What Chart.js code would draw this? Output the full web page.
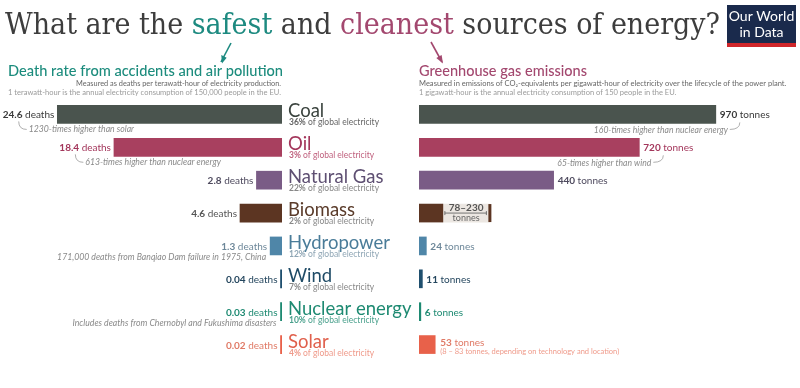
<!DOCTYPE html>
<html><head><meta charset="utf-8">
<script src="https://cdn.jsdelivr.net/npm/chart.js@4.4.0/dist/chart.umd.min.js"></script>
<style>
html,body{margin:0;padding:0;width:800px;height:388px;overflow:hidden;background:#fff;}
canvas{position:absolute;left:0;top:0;}
</style></head>
<body>
<canvas id="left" width="800" height="388"></canvas>
<canvas id="right" width="800" height="388"></canvas>
<script>
// ---------- data ----------
const categories = ['Coal','Oil','Natural Gas','Biomass','Hydropower','Wind','Nuclear energy','Solar'];
const shareOfElectricity = ['36%','3%','22%','2%','12%','7%','10%','4%'];
const deathRates = [24.6, 18.4, 2.8, 4.6, 1.3, 0.04, 0.03, 0.02];
const ghgEmissions = [970, 720, 440, 78, 24, 11, 6, 53];
const biomassGhgRange = [78, 230];
const solarGhgRange = [8, 83];
const deathNotes = ['1230-times higher than solar','613-times higher than nuclear energy',null,null,'171,000 deaths from Banqiao Dam failure in 1975, China',null,'Includes deaths from Chernobyl and Fukushima disasters',null];
const ghgNotes = ['160-times higher than nuclear energy','65-times higher than wind',null,null,null,null,null,null];

// ---------- styles ----------
const barColors  = ['#4a544e','#a8405f','#7a5c86','#5c3522','#4f86a8','#1f4f6e','#1e8a72','#e8614a'];
const nameColors = ['#3a433e','#a3365b','#5e4f72','#5a3b2a','#4a7c99','#1f4b66','#1e8a72','#e0604c'];
const valColors  = ['#3a3a3a','#a3365b','#4e4a5e','#555555','#6d8799','#24465e','#1e8a72','#e07a66'];
const subColors  = ['#666666','#c0627f','#888888','#888888','#8fa6b5','#888888','#49a08c','#ef9a8a'];
const LATO = 'Lato, "Open Sans", sans-serif';

function rich(ctx, parts, x, y, align){
  let w = 0;
  parts.forEach(p => { ctx.font = p[1]; w += ctx.measureText(p[0]).width; });
  let cx = align === 'right' ? x - w : (align === 'center' ? x - w/2 : x);
  ctx.textAlign = 'left'; ctx.textBaseline = 'alphabetic';
  parts.forEach(p => { ctx.font = p[1]; ctx.fillStyle = p[2]; ctx.fillText(p[0], cx, y); cx += ctx.measureText(p[0]).width; });
  return w;
}
function fitText(ctx, parts, x, y, width){
  let w = 0;
  parts.forEach(p => { ctx.font = p[1]; w += ctx.measureText(p[0]).width; });
  ctx.save(); ctx.translate(x, y); ctx.scale(width / w, 1);
  rich(ctx, parts, 0, 0, 'left');
  ctx.restore();
}
// draws a line of text with font size chosen so that it spans the given width
function sizedText(ctx, s, x, y, width, style, color, align){
  ctx.font = style + ' 10px ' + LATO;
  const size = 10 * width / ctx.measureText(s).width;
  ctx.font = style + ' ' + size.toFixed(2) + 'px ' + LATO;
  ctx.fillStyle = color; ctx.textAlign = align; ctx.textBaseline = 'alphabetic';
  ctx.fillText(s, x, y);
}
function arrow(ctx, x1, y1, x2, y2, color){
  ctx.save(); ctx.strokeStyle = color; ctx.fillStyle = color; ctx.lineWidth = 1.6;
  ctx.beginPath(); ctx.moveTo(x1, y1); ctx.lineTo(x2, y2); ctx.stroke();
  const a = Math.atan2(y2 - y1, x2 - x1), L = 7;
  ctx.beginPath(); ctx.moveTo(x2 + 1, y2 + 1.5);
  ctx.lineTo(x2 - L*Math.cos(a - 0.45), y2 - L*Math.sin(a - 0.45));
  ctx.lineTo(x2 - L*Math.cos(a + 0.45), y2 - L*Math.sin(a + 0.45));
  ctx.closePath(); ctx.fill(); ctx.restore();
}
function hook(ctx, x1, y1, x2, y2){
  ctx.save(); ctx.strokeStyle = '#9a9a9a'; ctx.lineWidth = 0.8;
  ctx.beginPath(); ctx.moveTo(x1, y1); ctx.quadraticCurveTo(x1, y2, x2, y2); ctx.stroke(); ctx.restore();
}

// ---------- left chart plugin ----------
const leftLabels = {
  id: 'leftLabels',
  afterDatasetsDraw(chart){
    const ctx = chart.ctx, xs = chart.scales.x, ys = chart.scales.y;
    const x0 = xs.getPixelForValue(0);
    categories.forEach((c, i) => {
      const y = ys.getPixelForValue(i);
      const bar = chart.getDatasetMeta(0).data[i];
      const barLeft = Math.min(bar.x, bar.base);
      const w = rich(ctx, [[String(deathRates[i]), 'bold 10px ' + LATO, valColors[i]], [' deaths', '10px ' + LATO, valColors[i]]], barLeft - 3, y + 4, 'right');
      const labLeft = barLeft - 3 - w;
      const n = deathNotes[i];
      if (n){
        ctx.font = 'italic 8.7px ' + LATO; ctx.fillStyle = '#8a8a8a';
        if (i <= 1){
          ctx.textAlign = 'left'; ctx.fillText(n, labLeft + 26, y + 18);
          hook(ctx, labLeft + 16, y + 7, labLeft + 24, y + 15);
        } else {
          ctx.textAlign = 'right'; ctx.fillText(n, barLeft - 4, y + 14);
        }
      }
      ctx.textAlign = 'left'; ctx.font = '18.5px ' + LATO; ctx.fillStyle = nameColors[i];
      ctx.fillText(c, x0 + 6, y + 3);
      rich(ctx, [[shareOfElectricity[i], 'bold 8.5px ' + LATO, subColors[i]], [' of global electricity', '8.5px ' + LATO, subColors[i]]], x0 + 7, y + 11, 'left');
    });
    fitText(ctx, [['Death rate from accidents and air pollution', '500 15px ' + LATO, '#1c8c7d']], 8, 76, 275);
    sizedText(ctx, 'Measured as deaths per terawatt-hour of electricity production.', 281, 86, 205, '', '#666', 'right');
    sizedText(ctx, '1 terawatt-hour is the annual electricity consumption of 150,000 people in the EU.', 281, 95, 273, '', '#9a9a9a', 'right');
  }
};

// ---------- right chart plugin ----------
const rightLabels = {
  id: 'rightLabels',
  afterDatasetsDraw(chart){
    const ctx = chart.ctx, xs = chart.scales.x, ys = chart.scales.y;
    const meta = chart.getDatasetMeta(0);
    categories.forEach((c, i) => {
      const y = ys.getPixelForValue(i);
      const bar = meta.data[i];
      const barRight = Math.max(bar.x, bar.base);
      if (i === 3){
        const xe = xs.getPixelForValue(biomassGhgRange[1]);
        const xl = xs.getPixelForValue(biomassGhgRange[0]);
        ctx.fillStyle = barColors[3]; ctx.fillRect(xe - 1, y - 9, 3, 18);
        ctx.strokeStyle = '#555'; ctx.lineWidth = 0.8;
        ctx.beginPath(); ctx.moveTo(xl + 2, y); ctx.lineTo(xe - 3, y);
        ctx.moveTo(xl + 2, y - 2); ctx.lineTo(xl + 2, y + 2);
        ctx.moveTo(xe - 3, y - 2); ctx.lineTo(xe - 3, y + 2); ctx.stroke();
        const cx = (xl + xe) / 2;
        ctx.textAlign = 'center';
        ctx.font = 'bold 10px ' + LATO; ctx.fillStyle = '#555';
        ctx.fillText(biomassGhgRange[0] + '–' + biomassGhgRange[1], cx, y - 2);
        ctx.font = '9px ' + LATO; ctx.fillStyle = '#666';
        ctx.fillText('tonnes', cx, y + 8);
        return;
      }
      if (i === 7){
        rich(ctx, [[String(ghgEmissions[i]), 'bold 10px ' + LATO, valColors[i]], [' tonnes', '10px ' + LATO, valColors[i]]], barRight + 5, y + 1, 'left');
        ctx.font = '7.5px ' + LATO; ctx.fillStyle = '#ef9a8a'; ctx.textAlign = 'left';
        ctx.fillText('(' + solarGhgRange[0] + ' – ' + solarGhgRange[1] + ' tonnes, depending on technology and location)', barRight + 5, y + 9);
        return;
      }
      rich(ctx, [[String(ghgEmissions[i]), 'bold 10px ' + LATO, valColors[i]], [' tonnes', '10px ' + LATO, valColors[i]]], barRight + 4, y + 4, 'left');
      const n = ghgNotes[i];
      if (n){
        ctx.font = 'italic 8.6px ' + LATO; ctx.fillStyle = '#8a8a8a'; ctx.textAlign = 'right';
        ctx.fillText(n, barRight + 12, y + 19);
        hook(ctx, barRight + 24, y + 8, barRight + 14, y + 15);
      }
    });
    fitText(ctx, [['Greenhouse gas emissions', '500 15px ' + LATO, '#a3486f']], 419, 76, 168);
    sizedText(ctx, 'Measured in emissions of CO\u2082-equivalents per gigawatt-hour of electricity over the lifecycle of the power plant.', 419, 86, 368, '', '#666', 'left');
    sizedText(ctx, '1 gigawatt-hour is the annual electricity consumption of 150 people in the EU.', 419, 95, 258, '', '#9a9a9a', 'left');

    const tf = '30px "DejaVu Serif", serif';
    fitText(ctx, [['What are the ', tf, '#3d3d3d'], ['safest', tf, '#1d8a80'], [' and ', tf, '#3d3d3d'], ['cleanest', tf, '#a3486f'], [' sources of energy?', tf, '#3d3d3d']], 5, 34, 715);
    arrow(ctx, 231, 43, 221, 62, '#1d8a80');
    arrow(ctx, 431, 42, 442, 62, '#a3486f');

    ctx.fillStyle = '#1a2a4c'; ctx.fillRect(727, 5, 69, 42);
    ctx.fillStyle = '#d0262a'; ctx.fillRect(727, 43, 69, 4);
    ctx.fillStyle = '#ffffff'; ctx.textAlign = 'center'; ctx.font = '14px ' + LATO;
    ctx.fillText('Our World', 761.5, 21);
    ctx.fillText('in Data', 761.5, 37);
  }
};

const common = (padding, xScale) => ({
  indexAxis: 'y', responsive: false, animation: false, devicePixelRatio: 1,
  layout: { padding },
  scales: { x: xScale, y: { display: false } },
  plugins: { legend: { display: false }, tooltip: { enabled: false } }
});

new Chart(document.getElementById('left'), {
  type: 'bar',
  data: { labels: categories, datasets: [{ data: deathRates, backgroundColor: barColors, barThickness: 18, minBarLength: 1.5, borderWidth: 0 }] },
  options: common({ left: 8, right: 518, top: 98, bottom: 27 }, { display: false, reverse: true, min: 0, max: 30 }),
  plugins: [leftLabels]
});

const rangeData = categories.map((c, i) => i === 3 ? biomassGhgRange.slice() : null);
new Chart(document.getElementById('right'), {
  type: 'bar',
  data: { labels: categories, datasets: [
    { data: ghgEmissions, backgroundColor: barColors, barThickness: 18, minBarLength: 1.5, grouped: false, borderWidth: 0 },
    { data: rangeData, backgroundColor: '#ece7e2', barThickness: 18, grouped: false, borderWidth: 0 }
  ] },
  options: common({ left: 419, right: 75, top: 98, bottom: 27 }, { display: false, min: 0, max: 1000 }),
  plugins: [rightLabels]
});
</script>
</body></html>
